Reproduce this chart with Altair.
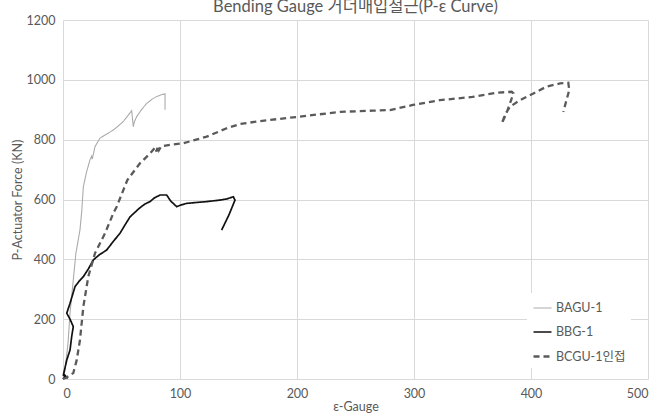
import altair as alt
import pandas as pd

series_names = ["BAGU-1", "BBG-1", "BCGU-1인접"]

bagu_x = [0, 0.5, 1.7, 4.3, 6, 8.8, 11, 14.5, 16, 17.4, 20, 23, 24.5, 25, 27.4, 31.6, 37, 42.9, 47, 51.4, 55, 58.7, 60.1, 61, 63, 67, 71.5, 76, 80, 84, 87.2, 87.2]
bagu_y = [0, 10, 30, 120, 220, 331, 420, 498, 560, 643, 690, 732, 745, 735, 777, 805, 818, 832, 845, 860, 878, 897, 843, 860, 877, 900, 921, 935, 944, 950, 953, 900]

bbg_x = [0, 2, 4, 1, 3, 0.3, 3.2, 6, 7.4, 8.8, 6, 3.2, 6, 10.3, 14, 17.4, 22, 25.9, 31, 37.3, 43, 48.7, 53, 57.3, 65, 70, 74.4, 78, 82.9, 88.6, 92, 97.2, 101, 105.7, 114, 122.8, 134, 140, 145.6, 147, 142, 135.6]
bbg_y = [0, 8, 2, 15, 5, 13, 63, 97, 141, 175, 200, 220, 253, 309, 328, 342, 370, 398, 415, 431, 460, 487, 515, 542, 570, 585, 593, 605, 615, 615, 595, 576, 582, 587, 590, 593, 598, 602, 609, 598, 550, 498]

bcgu_x = [0, 3, 8.8, 11.7, 14.5, 17.4, 21.6, 27.4, 35.9, 43, 45.9, 55, 65.8, 74.4, 79, 80, 81, 82, 84, 91.5, 102.8, 122.8, 139.9, 151, 168, 200, 237, 265, 279.5, 299, 322, 350, 370.7, 383.5, 385, 382, 379, 375, 378, 382, 390.6, 402, 413, 424.8, 431.9, 432.7, 427.6]
bcgu_y = [0, 5, 20, 63, 130, 242, 342, 421, 487, 554, 576, 665, 721, 754, 775, 760, 780, 765, 778, 783, 788, 810, 838, 852, 862, 876, 893, 897, 899, 916, 932, 943, 957, 960, 955, 921, 888, 854, 885, 910, 932, 954, 977, 988, 990, 966, 893]

rows = []
for name, xs, ys in zip(series_names, [bagu_x, bbg_x, bcgu_x], [bagu_y, bbg_y, bcgu_y]):
    for i, (xv, yv) in enumerate(zip(xs, ys)):
        rows.append({"series": name, "x": xv, "y": yv, "idx": i})
df = pd.DataFrame(rows)

LATIN = "Lato, Noto Sans CJK KR"
GRAY = "#595959"

legend = alt.Legend(
    title=None, orient="none", legendX=464, legendY=273,
    symbolType="stroke", symbolSize=324, labelFontSize=12.5, labelColor=GRAY,
    labelFont=LATIN, rowPadding=7, padding=5, fillColor="white",
    symbolStrokeWidth=1.8, labelOffset=3,
)

chart = alt.Chart(df).mark_line().encode(
    x=alt.X("x:Q", scale=alt.Scale(domain=[0, 500], nice=False),
            axis=alt.Axis(values=[0, 100, 200, 300, 400, 500], title="ε-Gauge",
                          titlePadding=1, format="d")),
    y=alt.Y("y:Q", scale=alt.Scale(domain=[0, 1200], nice=False),
            axis=alt.Axis(values=[0, 200, 400, 600, 800, 1000, 1200], format="d",
                          title="P-Actuator Force (KN)", titlePadding=2)),
    color=alt.Color("series:N", scale=alt.Scale(domain=series_names,
                    range=["#ababab", "#111111", "#5a5a5a"]), legend=legend),
    strokeDash=alt.StrokeDash("series:N", scale=alt.Scale(domain=series_names,
                    range=[[1, 0], [1, 0], [6, 4]]), legend=legend),
    strokeWidth=alt.StrokeWidth("series:N", scale=alt.Scale(domain=series_names,
                    range=[1.1, 2.3, 1.4]), legend=legend),
    order="idx:Q",
    detail="series:N",
).properties(
    width=585, height=359,
    title=alt.TitleParams("Bending Gauge 거더매입철근(P-ε Curve)", fontSize=16.5,
                          font=LATIN, color=GRAY, fontWeight="normal",
                          anchor="middle", offset=0, baseline="alphabetic", dy=14),
    autosize=alt.AutoSizeParams(type="none"),
    padding={"left": 63, "top": 20, "right": 13, "bottom": 37},
).configure_axis(
    grid=True, gridColor="#d9d9d9", domain=False, ticks=False,
    labelColor=GRAY, labelFontSize=12.5, labelFont=LATIN,
    titleColor=GRAY, titleFontSize=12.5, titleFont=LATIN, titleFontWeight="normal",
    labelPadding=8,
).configure_view(stroke=None)

chart.save("out.html", embed_options={"renderer": "svg", "actions": False})
